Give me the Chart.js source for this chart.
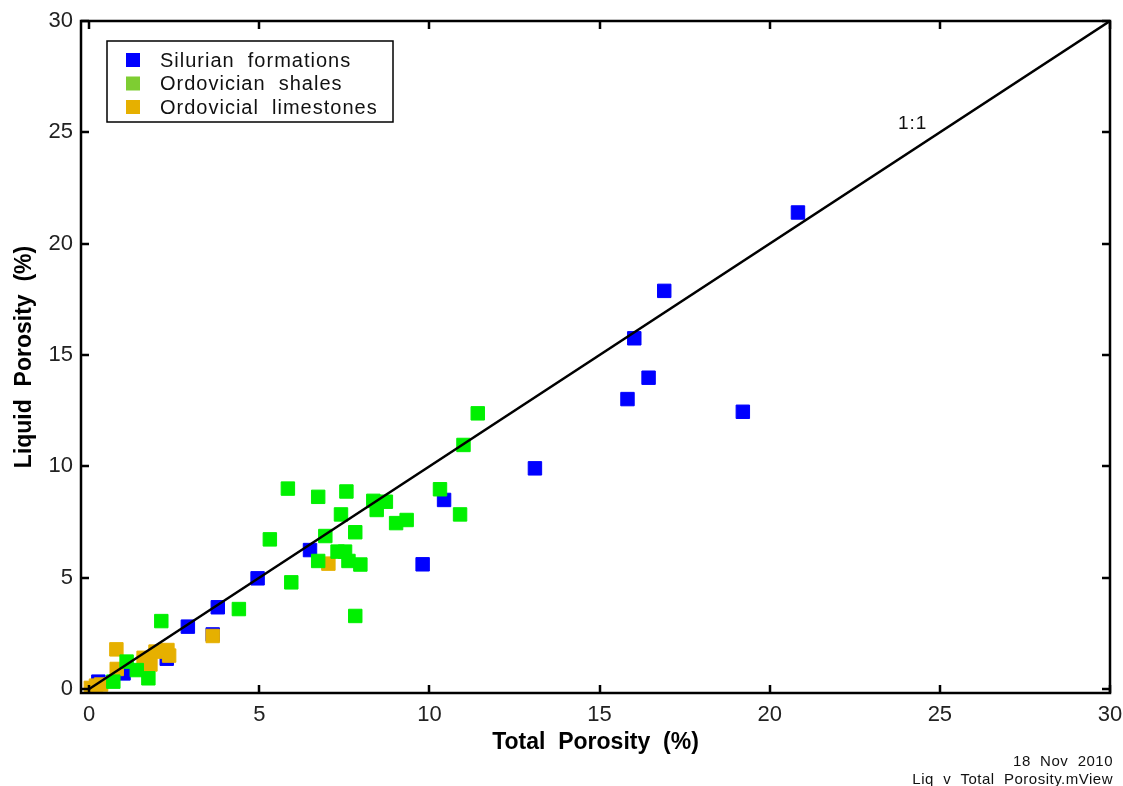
<!DOCTYPE html>
<html>
<head>
<meta charset="utf-8">
<script src="https://cdn.jsdelivr.net/npm/chart.js@4.4.1/dist/chart.umd.min.js"></script>
<style>
  html,body{margin:0;padding:0;background:#fff}
  canvas{display:block}
</style>
</head>
<body>
<canvas id="chart" width="1123" height="786"></canvas>
<script>
// porosity samples, total vs liquid (%)
const silurianX = [0.27, 1.01, 2.28, 2.9, 3.63, 3.78, 4.95, 6.49, 9.8, 10.43, 13.1, 15.82, 16.02, 16.44, 16.9, 19.21, 20.83];
const silurianY = [0.33, 0.7, 1.36, 2.8, 2.45, 3.67, 4.97, 6.24, 5.6, 8.49, 9.91, 13.02, 15.75, 13.98, 17.88, 12.45, 21.4];

const shalesX = [0.71, 1.1, 1.4, 1.74, 2.12, 4.4, 5.31, 5.84, 5.94, 6.73, 6.73, 6.94, 7.3, 7.4, 7.52, 7.56, 7.62, 7.82, 7.82, 7.97, 8.35, 8.45, 8.72, 9.02, 9.33, 10.31, 10.9, 11.0, 11.42];
const shalesY = [0.33, 1.23, 0.85, 0.48, 3.05, 3.59, 6.72, 9.0, 4.79, 8.63, 5.75, 6.87, 6.17, 7.84, 6.17, 8.87, 5.75, 7.04, 3.28, 5.59, 8.45, 8.04, 8.41, 7.45, 7.59, 8.97, 7.84, 10.96, 12.38];

const limestX = [0.05, 0.2, 0.35, 0.8, 0.81, 1.6, 1.8, 1.95, 2.3, 2.35, 3.63, 7.03];
const limestY = [0.05, 0.15, 0.2, 1.78, 0.9, 1.4, 1.1, 1.68, 1.75, 1.5, 2.38, 5.63];

const oneToOneX = [0, 30];
const oneToOneY = [0, 30];

const xTicks = [0, 5, 10, 15, 20, 25, 30];
const yTicks = [0, 5, 10, 15, 20, 25, 30];

const seriesNames = ['Silurian  formations', 'Ordovician  shales', 'Ordovicial  limestones'];
const lineLabel = '1:1';
const lineLabelAt = [24.2, 25.4];
const footLines = ['18  Nov  2010', 'Liq  v  Total  Porosity.mView'];

function pts(xs, ys){ return xs.map((x,i)=>({x, y: ys[i]})); }

const FONT = '"Liberation Sans", Arial, sans-serif';

function sq(color, legendColor, order, name, xs, ys){
  return {
    label: name, data: pts(xs, ys), order,
    pointStyle: 'rect', pointRadius: 9.5, pointHoverRadius: 9.5,
    backgroundColor: color, borderColor: color, borderWidth: 1,
    showLine: false, legendColor
  };
}

const framePlugin = {
  id: 'frame',
  afterDraw(chart){
    const {ctx, chartArea: a, scales} = chart;
    const L = Math.round(a.left), R = Math.round(a.right), T = Math.round(a.top), B = Math.round(a.bottom);
    ctx.save();
    ctx.strokeStyle = '#000';
    ctx.lineWidth = 2.5;
    ctx.strokeRect(L, T, R - L, B - T);
    // inward tick marks on all four sides
    const tl = 8;
    ctx.beginPath();
    xTicks.forEach(v=>{
      const px = Math.round(scales.x.getPixelForValue(v));
      ctx.moveTo(px, B); ctx.lineTo(px, B - tl);
      ctx.moveTo(px, T); ctx.lineTo(px, T + tl);
    });
    yTicks.forEach(v=>{
      const py = Math.round(scales.y.getPixelForValue(v));
      ctx.moveTo(L, py); ctx.lineTo(L + tl, py);
      ctx.moveTo(R, py); ctx.lineTo(R - tl, py);
    });
    ctx.stroke();

    // legend box, entries in series order
    const lx = L + 26, ly = T + 20, lw = 286, lh = 81;
    ctx.fillStyle = '#fff';
    ctx.fillRect(lx, ly, lw, lh);
    ctx.lineWidth = 1.5;
    ctx.strokeRect(lx, ly, lw, lh);
    ctx.font = '20px ' + FONT;
    ctx.letterSpacing = '1px';
    ctx.textBaseline = 'middle';
    ctx.textAlign = 'left';
    seriesNames.forEach((name,i)=>{
      const d = chart.data.datasets.find(ds=>ds.label === name);
      const ry = ly + 19 + i * 23.5;
      ctx.fillStyle = d.legendColor;
      ctx.fillRect(lx + 19, ry - 7, 14, 14);
      ctx.fillStyle = '#111';
      ctx.fillText(name, lx + 53, ry + 1);
    });

    // 1:1 label next to the diagonal
    ctx.font = '19px ' + FONT;
    ctx.textAlign = 'center';
    ctx.fillText(lineLabel, scales.x.getPixelForValue(lineLabelAt[0]), scales.y.getPixelForValue(lineLabelAt[1]));

    // file stamp, bottom right
    ctx.font = '15px ' + FONT;
    ctx.letterSpacing = '0.5px';
    ctx.textAlign = 'right';
    ctx.fillText(footLines[0], chart.width - 10, 762);
    ctx.fillText(footLines[1], chart.width - 10, 780);
    ctx.restore();
  }
};

const tickFont = {family: FONT, size: 22};

new Chart(document.getElementById('chart'), {
  type: 'scatter',
  data: {
    datasets: [
      {
        label: lineLabel, data: pts(oneToOneX, oneToOneY), order: 0,
        showLine: true, borderColor: '#000', borderWidth: 2.5,
        pointRadius: 0, pointHoverRadius: 0, backgroundColor: '#000'
      },
      sq('#00f000', '#7ecd32', 1, seriesNames[1], shalesX, shalesY),
      sq('#e6b000', '#e6b000', 2, seriesNames[2], limestX, limestY),
      sq('#0000ff', '#0000ff', 3, seriesNames[0], silurianX, silurianY)
    ]
  },
  options: {
    responsive: false,
    animation: false,
    events: [],
    layout: {padding: {top: 21, right: 13, left: 0, bottom: 26}},
    plugins: {legend: {display: false}, tooltip: {enabled: false}},
    scales: {
      x: {
        type: 'linear', min: -0.24, max: 30,
        grid: {display: false, drawTicks: false},
        border: {display: false},
        afterFit(s){ s.height = 67; s.paddingLeft = 0; s.paddingRight = 0; },
        afterBuildTicks(s){ s.ticks = xTicks.map(v=>({value: v})); },
        ticks: {autoSkip: false, maxRotation: 0, padding: 9, color: '#222', font: tickFont},
        title: {display: true, text: 'Total  Porosity  (%)', color: '#000',
          font: {family: FONT, size: 23, weight: 'bold'}, padding: {top: 0, bottom: 4}}
      },
      y: {
        type: 'linear', min: -0.18, max: 30,
        grid: {display: false, drawTicks: false},
        border: {display: false},
        afterFit(s){ s.width = 81; s.paddingTop = 0; s.paddingBottom = 0; },
        afterBuildTicks(s){ s.ticks = yTicks.map(v=>({value: v})); },
        ticks: {autoSkip: false, padding: 8, color: '#222', font: tickFont},
        title: {display: true, text: 'Liquid  Porosity  (%)', color: '#000',
          font: {family: FONT, size: 23, weight: 'bold'}, padding: {top: 11, bottom: 0}}
      }
    }
  },
  plugins: [framePlugin]
});
</script>
</body>
</html>
